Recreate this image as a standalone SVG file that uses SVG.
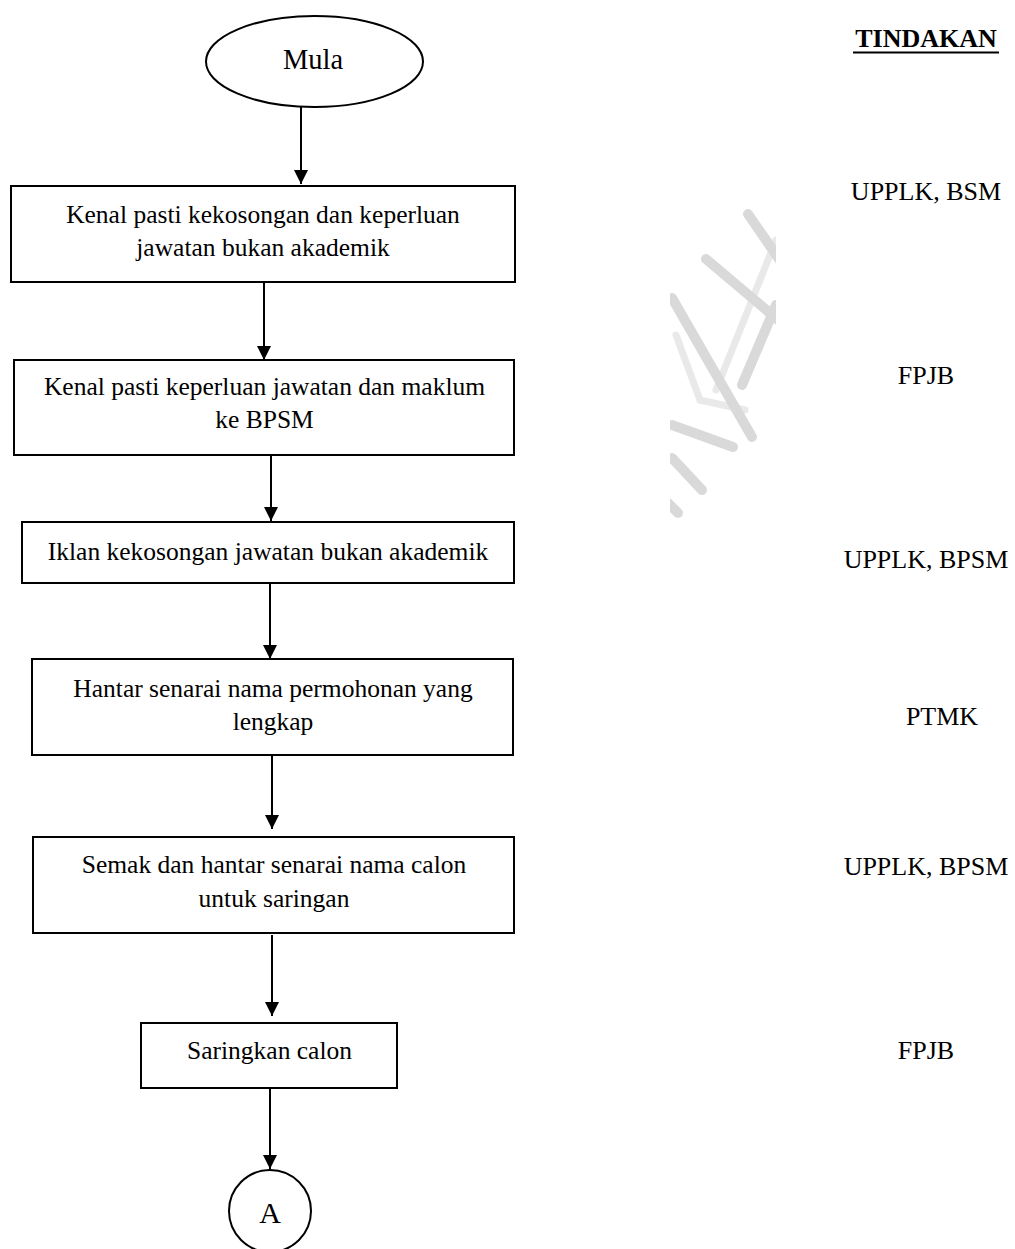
<svg xmlns="http://www.w3.org/2000/svg" width="1015" height="1249" viewBox="0 0 1015 1249">
<style>
.box{fill:#fff;stroke:#000;stroke-width:2}
.t{font-family:"Liberation Serif","Times New Roman",serif;font-size:25.5px;fill:#000;text-anchor:middle}
.r{font-family:"Liberation Serif","Times New Roman",serif;font-size:26px;fill:#000;text-anchor:middle}
.c{stroke:#000;stroke-width:2;fill:none;marker-end:url(#ah)}
.wm{stroke:#d9d9d9;stroke-width:10;stroke-linecap:round;fill:none}
.wm2{stroke:#e9e9e9;stroke-width:7;stroke-linecap:round;fill:none}
</style>
<defs>
<marker id="ah" markerUnits="userSpaceOnUse" markerWidth="14" markerHeight="14" refX="14" refY="7" orient="auto">
<path d="M0,0 L14,7 L0,14 z" fill="#000"/>
</marker>
<clipPath id="wmclip"><rect x="670" y="200" width="106" height="330"/></clipPath>
</defs>
<rect width="1015" height="1249" fill="#fff"/>
<g id="watermark" clip-path="url(#wmclip)">
<line class="wm2" x1="776" y1="240" x2="716" y2="390"/>
<line class="wm2" x1="676" y1="335" x2="700" y2="400"/>
<line class="wm2" x1="700" y1="400" x2="745" y2="410"/>
<line class="wm" x1="748" y1="214" x2="790" y2="275"/>
<line class="wm" x1="706" y1="259" x2="790" y2="330"/>
<line class="wm" x1="672" y1="298" x2="752" y2="437"/>
<line class="wm" x1="672" y1="425" x2="733" y2="447"/>
<line class="wm" x1="672" y1="458" x2="702" y2="490"/>
<line class="wm" x1="668" y1="503" x2="678" y2="513"/>
<line class="wm" x1="776" y1="305" x2="742" y2="385"/>
</g>
<g id="connectors">
<line class="c" x1="301" y1="107" x2="301" y2="184"/>
<line class="c" x1="264" y1="282" x2="264" y2="360"/>
<line class="c" x1="271" y1="455" x2="271" y2="521"/>
<line class="c" x1="270" y1="583" x2="270" y2="659"/>
<line class="c" x1="272" y1="755" x2="272" y2="829"/>
<line class="c" x1="272" y1="935" x2="272" y2="1016"/>
<line class="c" x1="270" y1="1088" x2="270" y2="1169"/>
</g>
<g id="mula">
<ellipse class="box" cx="314.5" cy="61.5" rx="108.5" ry="45.5"/>
<text class="t" x="313" y="69" style="font-size:28.5px">Mula</text>
</g>
<g id="step1">
<rect class="box" x="11" y="186" width="504" height="96"/>
<text class="t" x="263" y="223">Kenal pasti kekosongan dan keperluan</text>
<text class="t" x="263" y="256">jawatan bukan akademik</text>
</g>
<g id="step2">
<rect class="box" x="14" y="360" width="500" height="95"/>
<text class="t" x="264.5" y="395">Kenal pasti keperluan jawatan dan maklum</text>
<text class="t" x="264.5" y="428">ke BPSM</text>
</g>
<g id="step3">
<rect class="box" x="22" y="522" width="492" height="61"/>
<text class="t" x="268" y="560">Iklan kekosongan jawatan bukan akademik</text>
</g>
<g id="step4">
<rect class="box" x="32" y="659" width="481" height="96"/>
<text class="t" x="273" y="697">Hantar senarai nama permohonan yang</text>
<text class="t" x="273" y="730">lengkap</text>
</g>
<g id="step5">
<rect class="box" x="33" y="837" width="481" height="96"/>
<text class="t" x="274" y="873">Semak dan hantar senarai nama calon</text>
<text class="t" x="274" y="907">untuk saringan</text>
</g>
<g id="step6">
<rect class="box" x="141" y="1023" width="256" height="65"/>
<text class="t" x="269.5" y="1059">Saringkan calon</text>
</g>
<g id="connectorA">
<circle class="box" cx="270" cy="1211" r="41"/>
<text class="t" x="270" y="1223" style="font-size:30px">A</text>
</g>
<g id="tindakan">
<text class="r" x="926" y="47" font-weight="bold">TINDAKAN</text>
<line x1="853" y1="52.5" x2="999" y2="52.5" stroke="#000" stroke-width="2"/>
<text class="r" x="926" y="200">UPPLK, BSM</text>
<text class="r" x="926" y="384">FPJB</text>
<text class="r" x="926" y="568">UPPLK, BPSM</text>
<text class="r" x="942" y="725">PTMK</text>
<text class="r" x="926" y="875">UPPLK, BPSM</text>
<text class="r" x="926" y="1059">FPJB</text>
</g>
</svg>
